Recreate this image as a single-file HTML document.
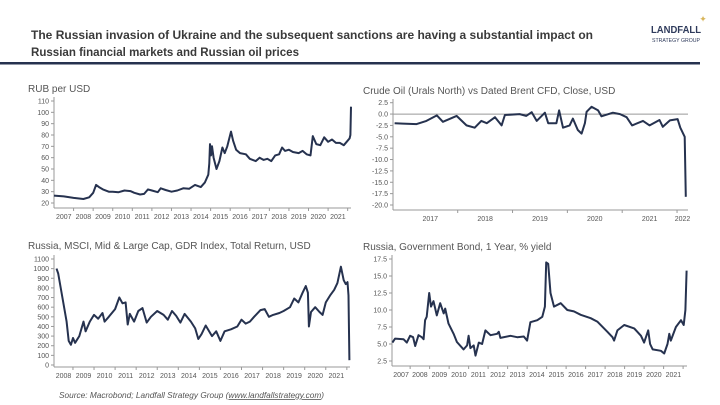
<!DOCTYPE html>
<html><head><meta charset="utf-8"><style>
html,body{margin:0;padding:0;background:#fff;}
svg{display:block;font-family:"Liberation Sans",sans-serif;}
</style></head><body>
<svg id="root" width="720" height="405" viewBox="0 0 720 405">
<text x="31" y="39" font-size="12" font-weight="bold" fill="#3a3a3a" textLength="562" lengthAdjust="spacingAndGlyphs">The Russian invasion of Ukraine and the subsequent sanctions are having a substantial impact on</text>
<text x="31" y="56" font-size="12" font-weight="bold" fill="#3a3a3a" textLength="268" lengthAdjust="spacingAndGlyphs">Russian financial markets and Russian oil prices</text>
<rect x="0" y="62" width="700" height="2.5" fill="#26324f"/>
<text x="676" y="33" font-size="10.5" font-weight="bold" fill="#2f3b5c" text-anchor="middle" textLength="50" lengthAdjust="spacingAndGlyphs">LANDFALL</text>
<text x="676" y="42" font-size="5.5" fill="#2f3b5c" text-anchor="middle" textLength="48" lengthAdjust="spacingAndGlyphs">STRATEGY GROUP</text>
<text x="703" y="22" font-size="9" fill="#d8b55a" text-anchor="middle">✦</text>
<text x="59" y="398" font-size="8" font-style="italic" fill="#555" textLength="265" lengthAdjust="spacingAndGlyphs">Source: Macrobond; Landfall Strategy Group (<tspan text-decoration="underline">www.landfallstrategy.com</tspan>)</text>
<g id="charts"></g>
</svg>
<script>
// RUB per USD
const rubYears=[2007.0,2007.5,2008.0,2008.5,2008.8,2009.0,2009.15,2009.3,2009.5,2009.8,2010.0,2010.3,2010.6,2010.9,2011.1,2011.4,2011.6,2011.8,2012.0,2012.3,2012.45,2012.7,2013.0,2013.3,2013.6,2013.9,2014.2,2014.5,2014.7,2014.88,2014.93,2014.97,2015.02,2015.07,2015.15,2015.3,2015.45,2015.6,2015.72,2015.85,2016.04,2016.15,2016.3,2016.5,2016.8,2017.0,2017.3,2017.5,2017.7,2017.9,2018.1,2018.3,2018.5,2018.65,2018.8,2019.0,2019.2,2019.5,2019.7,2019.9,2020.1,2020.22,2020.4,2020.6,2020.8,2021.0,2021.2,2021.4,2021.6,2021.8,2021.95,2022.1,2022.14,2022.17];
const rubValues=[26.5,25.8,24.5,23.5,25,29,36,34,32,30,30,29.5,31,30.5,29,27.5,28,32,31,29.5,33,31.5,30,31,33,32.5,36,34,38,45,55,72,62,70,60,50,57,69,64,70,83,75,67,64,63,59,57,60,58,59,57,62,63,69,66,67,65,64,66,63,62,79,72,71,78,74,76,73,73,71,74,77,80,105];
const rubTicks=[20,30,40,50,60,70,80,90,100,110];
const rubYearLabels=[2007,2008,2009,2010,2011,2012,2013,2014,2015,2016,2017,2018,2019,2020,2021];
// Urals vs Brent
const oilYears=[2016.85,2017.0,2017.25,2017.43,2017.62,2017.73,2017.98,2018.16,2018.31,2018.43,2018.53,2018.68,2018.8,2018.86,2019.13,2019.25,2019.35,2019.44,2019.59,2019.65,2019.8,2019.85,2019.92,2020.04,2020.1,2020.19,2020.26,2020.32,2020.35,2020.44,2020.56,2020.62,2020.83,2020.96,2021.08,2021.18,2021.38,2021.5,2021.68,2021.74,2021.87,2022.01,2022.06,2022.14,2022.16];
const oilValues=[-2,-2.1,-2.2,-1.5,-0.3,-1.7,-0.4,-2.5,-3,-1.5,-2,-0.7,-2.5,-0.2,0,-0.4,0.4,-1.5,0.3,-2,-2,0.8,-3,-2.5,-1,-3.5,-4.3,-2,0.5,1.6,0.8,-0.5,0.3,0,-0.7,-2.5,-1.5,-2.5,-1.3,-2.8,-1.4,-1.1,-3,-5,-18.2];
const oilTicks=[-20,-17.5,-15,-12.5,-10,-7.5,-5,-2.5,0,2.5];
const oilYearLabels=[2017,2018,2019,2020,2021,2022];
// MSCI Russia
const msciYears=[2008.22,2008.3,2008.5,2008.7,2008.8,2008.9,2009.0,2009.1,2009.3,2009.5,2009.6,2009.8,2010.0,2010.2,2010.4,2010.5,2010.7,2011.0,2011.2,2011.35,2011.5,2011.6,2011.7,2011.9,2012.1,2012.3,2012.5,2012.7,2013.0,2013.3,2013.5,2013.7,2013.9,2014.1,2014.3,2014.6,2014.8,2014.95,2015.1,2015.3,2015.6,2015.8,2016.0,2016.2,2016.5,2016.8,2017.0,2017.2,2017.4,2017.6,2017.9,2018.1,2018.3,2018.5,2018.8,2019.0,2019.3,2019.5,2019.7,2019.9,2020.05,2020.15,2020.2,2020.3,2020.5,2020.7,2020.85,2021.0,2021.2,2021.4,2021.55,2021.72,2021.85,2021.95,2022.03,2022.08,2022.12];
const msciValues=[1000,950,700,450,250,210,280,230,300,450,350,450,520,480,540,450,500,580,700,640,650,420,530,450,560,590,440,500,560,520,470,560,510,440,530,450,380,270,320,410,300,350,250,350,370,400,470,430,450,500,570,580,500,520,540,560,600,690,650,750,820,750,400,550,600,550,520,650,720,780,850,1020,880,840,860,720,50];
const msciTicks=[0,100,200,300,400,500,600,700,800,900,1000,1100];
const msciYearLabels=[2008,2009,2010,2011,2012,2013,2014,2015,2016,2017,2018,2019,2020,2021];
// Bond yield
const bondYears=[2007.09,2007.23,2007.66,2007.83,2008.0,2008.15,2008.26,2008.43,2008.6,2008.69,2008.77,2008.85,2008.98,2009.07,2009.2,2009.37,2009.54,2009.72,2009.8,2009.97,2010.23,2010.4,2010.74,2010.92,2011.0,2011.09,2011.26,2011.35,2011.52,2011.69,2011.86,2012.12,2012.46,2012.55,2012.63,2013.15,2013.49,2013.83,2014.0,2014.17,2014.52,2014.78,2014.91,2014.98,2015.08,2015.2,2015.38,2015.72,2016.06,2016.4,2016.75,2017.26,2017.6,2018.12,2018.38,2018.46,2018.63,2018.98,2019.49,2019.84,2020.0,2020.21,2020.31,2020.44,2020.86,2021.03,2021.2,2021.29,2021.37,2021.63,2021.89,2022.03,2022.12,2022.18];
const bondValues=[5.2,5.8,5.7,5.2,6.2,6.0,4.7,6.3,6.0,5.7,8.5,9.0,12.5,10.5,11.3,9.2,11.0,9.5,10.2,8.0,6.5,5.3,4.2,4.8,6.2,4.4,4.8,3.3,5.2,5.0,7.0,6.3,6.5,6.8,5.9,6.2,6.0,6.1,5.5,8.2,8.5,9.0,10.5,17.0,16.8,12.5,10.5,11.0,10.0,9.8,9.3,8.8,8.3,6.8,6.0,5.5,7.0,7.8,7.3,6.2,5.2,7.0,5.0,4.2,4.0,3.6,5.0,6.5,5.5,7.5,8.5,7.8,10,15.8];
const bondTicks=[2.5,5.0,7.5,10.0,12.5,15.0,17.5];
const bondYearLabels=[2007,2008,2009,2010,2011,2012,2013,2014,2015,2016,2017,2018,2019,2020,2021];

const NS='http://www.w3.org/2000/svg';
const root=document.getElementById('charts');
function mk(tag,attrs,parent){const e=document.createElementNS(NS,tag);for(const k in attrs)e.setAttribute(k,attrs[k]);(parent||root).appendChild(e);return e;}

function chart(cfg){
  const g=mk('g',{});
  
  
  const xs=y=>cfg.x0+(y-cfg.y0)*(cfg.x1-cfg.x0)/(cfg.y1-cfg.y0);
  const ys=v=>cfg.py0+(v-cfg.v0)*(cfg.py1-cfg.py0)/(cfg.v1-cfg.v0);
  const t=mk('text',{x:cfg.tx,y:cfg.ty,'font-size':10,fill:'#555'},g);
  t.textContent=cfg.title;
  
  
  const ax=mk('line',{x1:cfg.x0,x2:cfg.x0,y1:cfg.top,y2:cfg.bottom,stroke:'#999','stroke-width':1},g);
  
  
  const bx=mk('line',{x1:cfg.x0,x2:cfg.x1,y1:cfg.bottom,y2:cfg.bottom,stroke:'#999','stroke-width':1},g);
  
  
  cfg.ticks.forEach(v=>{
    const yy=ys(v);
    mk('line',{x1:cfg.x0-3,x2:cfg.x0,y1:yy,y2:yy,stroke:'#999'},g);
    const l=mk('text',{x:cfg.x0-5,y:yy+2.5,'font-size':7,fill:'#555','text-anchor':'end'},g);
    l.textContent=cfg.fmt(v);
    
    
  });
  if(cfg.zero){const z=mk('line',{x1:cfg.x0,x2:cfg.x1,y1:ys(0),y2:ys(0),stroke:'#999'},g);
    
    }
  cfg.years.forEach(yr=>{
    const a=xs(yr), b=Math.min(xs(yr+1),cfg.x1);
    if(yr+1<=cfg.y1) mk('line',{x1:xs(yr+1),x2:xs(yr+1),y1:cfg.bottom,y2:cfg.bottom+3,stroke:'#999'},g);
    const l=mk('text',{x:(Math.max(a,cfg.x0)+b)/2,y:cfg.bottom+11,'font-size':7,fill:'#555','text-anchor':'middle'},g);
    l.textContent=yr;
    
    
  });
  const d=cfg.dx.map((yr,i)=>(i?'L':'M')+xs(yr).toFixed(1)+' '+ys(cfg.dv[i]).toFixed(1)).join(' ');
  const p=mk('path',{d:d,fill:'none',stroke:'#26324f','stroke-width':2,'stroke-linejoin':'round'},g);
  
  
}
const f0=v=>String(v), f1=v=>v.toFixed(1);
chart({name:'rub-chart',title:'RUB per USD',tx:28,ty:92,x0:54,x1:351,y0:2007,y1:2022.17,py0:203,py1:101,v0:20,v1:110,top:97,bottom:208,ticks:rubTicks,fmt:f0,years:rubYearLabels,dx:rubYears,dv:rubValues});
chart({name:'urals-brent-chart',title:'Crude Oil (Urals North) vs Dated Brent CFD, Close, USD',tx:363,ty:94,x0:393,x1:688,y0:2016.82,y1:2022.2,py0:205,py1:102.7,v0:-20,v1:2.5,top:99,bottom:210,ticks:oilTicks,fmt:f1,years:oilYearLabels,dx:oilYears,dv:oilValues,zero:true});
chart({name:'msci-chart',title:'Russia, MSCI, Mid & Large Cap, GDR Index, Total Return, USD',tx:28,ty:249,x0:54,x1:350,y0:2008.1,y1:2022.15,py0:365,py1:259,v0:0,v1:1100,top:255,bottom:367,ticks:msciTicks,fmt:f0,years:msciYearLabels,dx:msciYears,dv:msciValues});
chart({name:'bond-yield-chart',title:'Russia, Government Bond, 1 Year, % yield',tx:363,ty:250,x0:392,x1:687,y0:2007.07,y1:2022.2,py0:361,py1:259,v0:2.5,v1:17.5,top:255,bottom:366,ticks:bondTicks,fmt:f1,years:bondYearLabels,dx:bondYears,dv:bondValues});
</script>
</body></html>
